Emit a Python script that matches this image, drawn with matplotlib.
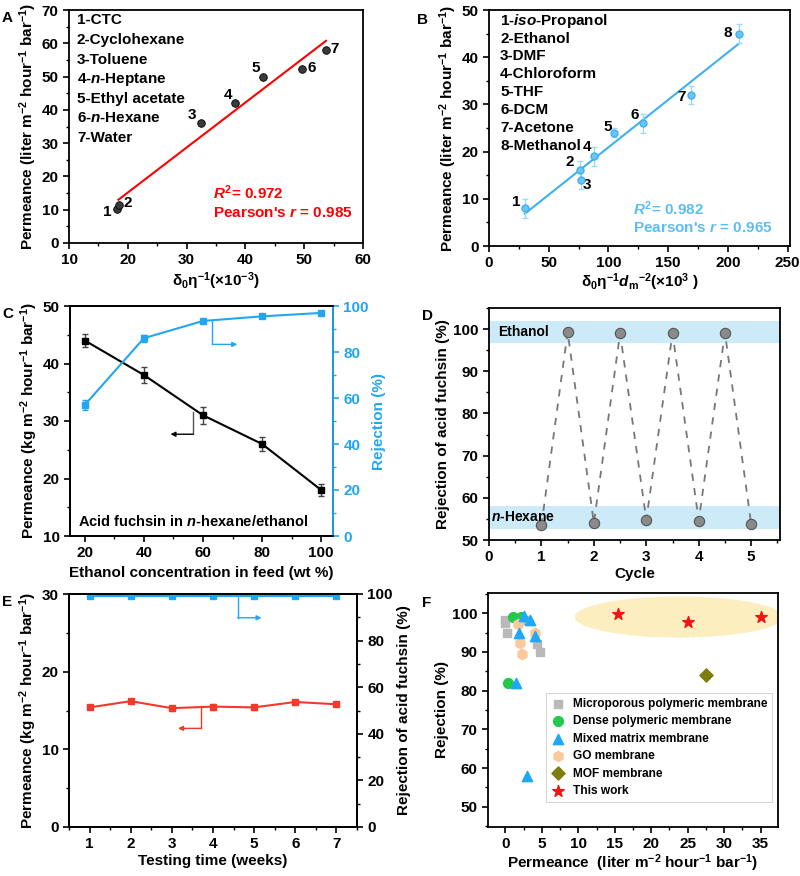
import numpy as np
import matplotlib
matplotlib.use("Agg")
import matplotlib.pyplot as plt
from matplotlib.patches import Ellipse
from matplotlib.ticker import MultipleLocator

plt.rcParams['font.family'] = ['Liberation Sans', 'DejaVu Sans']
plt.rcParams['font.weight'] = 'bold'
plt.rcParams['axes.labelweight'] = 'bold'
plt.rcParams['mathtext.fontset'] = 'custom'
plt.rcParams['mathtext.rm'] = 'Liberation Sans:bold'
plt.rcParams['mathtext.bf'] = 'Liberation Sans:bold'
plt.rcParams['mathtext.it'] = 'Liberation Sans:bold:italic'
plt.rcParams['axes.linewidth'] = 1.3

# ---------------- Data ----------------
# Panel A
a_x = [18.2, 18.5, 32.4, 38.3, 43.0, 49.7, 53.7]
a_y = [10.2, 11.5, 36.0, 42.0, 50.0, 52.3, 58.0]
a_names = ["1-CTC", "2-Cyclohexane", "3-Toluene", "4-$n$-Heptane",
           "5-Ethyl acetate", "6-$n$-Hexane", "7-Water"]
# Panel B
b_x = [30, 76, 77, 88, 105, 129, 169, 209]
b_y = [8, 16, 14, 19, 24, 26, 32, 45]
b_err = [2, 2, 2, 2, 1, 2, 2, 2]
b_names = ["1-$iso$-Propanol", "2-Ethanol", "3-DMF", "4-Chloroform",
           "5-THF", "6-DCM", "7-Acetone", "8-Methanol"]
# Panel C
c_x = [20, 40, 60, 80, 100]
c_perm = [44, 38, 31, 26, 18]
c_perm_err = [1.2, 1.4, 1.5, 1.3, 1.0]
c_rej = [57, 86, 93.5, 95.5, 97]
c_rej_err = [2, 1.5, 0.8, 0.6, 0.5]
# Panel D
d_x = [1, 1.5, 2, 2.5, 3, 3.5, 4, 4.5, 5]
d_y = [53.5, 99.3, 54.0, 99.0, 54.8, 99.0, 54.6, 99.1, 53.8]
# Panel E
e_x = [1, 2, 3, 4, 5, 6, 7]
e_perm = [15.4, 16.2, 15.3, 15.5, 15.4, 16.1, 15.8]
e_perm_err = [0.2, 0.2, 0.3, 0.4, 0.3, 0.3, 0.2]
e_rej = [99.3, 99.3, 99.3, 99.3, 99.3, 99.3, 99.3]
# Panel F
f_micro_x = [0.0, 0.0, 0.2, 2.5, 4.3, 4.8]
f_micro_y = [98.3, 97.4, 95.0, 98.3, 92.0, 90.0]
f_dense_x = [1.0, 2.15, 0.4]
f_dense_y = [99.1, 99.1, 82.0]
f_mmm_x = [2.5, 3.4, 1.9, 4.0, 1.5, 3.0]
f_mmm_y = [99.3, 98.2, 95.0, 94.0, 82.0, 58.0]
f_go_x = [1.7, 4.1, 2.0, 2.3]
f_go_y = [97.1, 95.0, 92.2, 89.5]
f_mof_x = [27.5]
f_mof_y = [84.0]
f_this_x = [15.5, 25.0, 35.1]
f_this_y = [99.7, 97.6, 99.1]

RED = '#f23a2a'
BLUE = '#3fb0f0'
BLUE_C = '#22a6f2'
FS = 11

fig = plt.figure(figsize=(8, 8.76), dpi=100)

def style(ax):
    ax.tick_params(which='major', direction='out', length=4, width=1.2, labelsize=FS)
    ax.tick_params(which='minor', direction='out', length=2.5, width=1.0)
    for lab in ax.get_xticklabels() + ax.get_yticklabels():
        lab.set_fontweight('bold')

# ---------------- A ----------------
axA = fig.add_axes([0.08625, 1 - 243/876, 0.3675, 233/876])
coef = np.polyfit(a_x, a_y, 1)
xx = np.array([min(a_x) + 0.2, max(a_x)])
axA.plot(xx, np.polyval(coef, xx), color='red', lw=1.5)
axA.scatter(a_x, a_y, s=30, color='#3a3a3a', edgecolor='black', linewidth=0.6, zorder=3)
axA.set_xlim(10, 60); axA.set_ylim(0, 70)
axA.xaxis.set_major_locator(MultipleLocator(10)); axA.xaxis.set_minor_locator(MultipleLocator(5))
axA.yaxis.set_major_locator(MultipleLocator(10)); axA.yaxis.set_minor_locator(MultipleLocator(5))
lblA = [(-1.0, -1.0, 'right', 'center'), (0.8, 0.4, 'left', 'center'), (-0.8, 0.5, 'right', 'bottom'),
        (-0.6, 0.5, 'right', 'bottom'), (-0.6, 0.5, 'right', 'bottom'), (0.8, 0.2, 'left', 'center'),
        (0.8, 0.3, 'left', 'center')]
for i, (dx, dy, ha, va) in enumerate(lblA):
    axA.text(a_x[i] + dx, a_y[i] + dy, str(i + 1), ha=ha, va=va, fontsize=FS, fontweight='bold')
for i, n in enumerate(a_names):
    axA.text(0.027, 0.955 - i * 0.084, n, transform=axA.transAxes, ha='left', va='center',
             fontsize=FS, fontweight='bold')
axA.text(0.49, 0.215, r"$R^2$= 0.972", transform=axA.transAxes, color='red', fontsize=FS,
         fontweight='bold', va='center')
axA.text(0.49, 0.13, r"Pearson's $r$ = 0.985", transform=axA.transAxes, color='red', fontsize=FS,
         fontweight='bold', va='center')
axA.set_xlabel(r"δ$_0$η$^{-1}$(×10$^{-3}$)", fontsize=FS, labelpad=2)
axA.set_ylabel(r"Permeance (liter m$^{-2}$ hour$^{-1}$ bar$^{-1}$)", fontsize=FS, labelpad=2)
style(axA)

# ---------------- B ----------------
axB = fig.add_axes([489/800, 1 - 246/876, 301/800, 236/876])
coefB = np.polyfit(b_x, b_y, 1)
xx = np.array([min(b_x), max(b_x)])
axB.plot(xx, np.polyval(coefB, xx), color=BLUE, lw=1.5)
axB.errorbar(b_x, b_y, yerr=b_err, fmt='o', ms=5, color=BLUE, mfc='#6cc4f5', mec=BLUE,
             ecolor='#9fd8f8', elinewidth=1, capsize=2.5, zorder=3)
axB.set_xlim(0, 252); axB.set_ylim(0, 50)
axB.xaxis.set_major_locator(MultipleLocator(50)); axB.xaxis.set_minor_locator(MultipleLocator(25))
axB.yaxis.set_major_locator(MultipleLocator(10)); axB.yaxis.set_minor_locator(MultipleLocator(5))
lblB_pos = [(23.2, 9.4), (67.8, 17.9), (82.0, 12.9), (82.0, 21.0),
            (99.7, 25.3), (122.0, 27.8), (161.3, 31.6), (200.0, 45.1)]
for i, (lx, ly) in enumerate(lblB_pos):
    axB.text(lx, ly, str(i + 1), ha='center', va='center', fontsize=FS, fontweight='bold')
for i, n in enumerate(b_names):
    axB.text(0.037, 0.955 - i * 0.076, n, transform=axB.transAxes, ha='left', va='center',
             fontsize=FS, fontweight='bold')
axB.text(0.48, 0.16, r"$R^2$= 0.982", transform=axB.transAxes, color='#5cbdf5', fontsize=FS,
         fontweight='bold', va='center')
axB.text(0.48, 0.078, r"Pearson's $r$ = 0.965", transform=axB.transAxes, color='#5cbdf5', fontsize=FS,
         fontweight='bold', va='center')
axB.set_xlabel(r"δ$_0$η$^{-1}$$d_{\rm m}$$^{-2}$(×10$^3$ )", fontsize=FS, labelpad=1)
axB.set_ylabel(r"Permeance (liter m$^{-2}$ hour$^{-1}$ bar$^{-1}$)", fontsize=FS, labelpad=2)
style(axB)

# ---------------- C ----------------
axC = fig.add_axes([70/800, 1 - 536/876, 263/800, 230/876])
axC.errorbar(c_x, c_perm, yerr=c_perm_err, fmt='s-', ms=5, color='black', ecolor='#444444',
             elinewidth=1, capsize=2.5, lw=1.5)
axC.set_xlim(15, 104); axC.set_ylim(10, 50)
axC.xaxis.set_major_locator(MultipleLocator(20)); axC.xaxis.set_minor_locator(MultipleLocator(10))
axC.yaxis.set_major_locator(MultipleLocator(10)); axC.yaxis.set_minor_locator(MultipleLocator(5))
axC.annotate('', xy=(49.0, 27.7), xytext=(56.6, 27.7),
             arrowprops=dict(arrowstyle='-|>', color='black', lw=1.0, mutation_scale=7, shrinkA=0, shrinkB=0))
axC.plot([56.6, 56.6], [31.6, 27.7], color='#555555', lw=1.0)
axC.text(17.8, 12.6, r"Acid fuchsin in $n$-hexane/ethanol", fontsize=10.5, fontweight='bold', va='center')
axC.set_xlabel("Ethanol concentration in feed (wt %)", fontsize=FS, labelpad=4)
axC.set_ylabel(r"Permeance (kg m$^{-2}$ hour$^{-1}$ bar$^{-1}$)", fontsize=FS, labelpad=2)
style(axC)
axC2 = axC.twinx()
axC2.errorbar(c_x, c_rej, yerr=c_rej_err, fmt='s-', ms=5, color=BLUE_C, ecolor=BLUE_C,
              elinewidth=1, capsize=2.5, lw=1.5)
axC2.set_ylim(0, 100)
axC2.yaxis.set_major_locator(MultipleLocator(20)); axC2.yaxis.set_minor_locator(MultipleLocator(10))
axC2.plot([63.2, 63.2], [93.5, 83.3], color=BLUE_C, lw=1.0)
axC2.annotate('', xy=(71.6, 83.3), xytext=(63.2, 83.3),
              arrowprops=dict(arrowstyle='-|>', color=BLUE_C, lw=1.0, mutation_scale=7, shrinkA=0, shrinkB=0))
axC2.spines['right'].set_color(BLUE_C)
axC2.tick_params(axis='y', which='both', colors=BLUE_C)
axC2.set_ylabel("Rejection (%)", color=BLUE_C, fontsize=FS, labelpad=2)
style(axC2)
for lab in axC2.get_yticklabels():
    lab.set_color(BLUE_C)

# ---------------- D ----------------
axD = fig.add_axes([489/800, 1 - 540/876, 291/800, 232/876])
axD.axhspan(96.7, 102.0, color='#cdeaf9', lw=0, zorder=0)
axD.axhspan(52.6, 58.1, color='#cdeaf9', lw=0, zorder=0)
axD.plot(d_x, d_y, ls=(0, (4, 4)), color='#777777', lw=1.3, zorder=2)
axD.scatter(d_x, d_y, s=55, color='#8a8a8a', edgecolor='#555555', linewidth=0.8, zorder=3)
axD.set_xlim(0, 5.55); axD.set_ylim(50, 105)
axD.xaxis.set_major_locator(MultipleLocator(1)); axD.xaxis.set_minor_locator(MultipleLocator(0.5))
axD.yaxis.set_major_locator(MultipleLocator(10)); axD.yaxis.set_minor_locator(MultipleLocator(5))
axD.text(0.17, 99.3, "Ethanol", fontsize=10, fontweight='bold', va='center')
axD.text(0.04, 55.4, r"$n$-Hexane", fontsize=10, fontweight='bold', va='center')
axD.set_xlabel("Cycle", fontsize=FS, labelpad=2)
axD.set_ylabel("Rejection of acid fuchsin (%)", fontsize=FS, labelpad=2)
style(axD)

# ---------------- E ----------------
axE = fig.add_axes([69/800, 1 - 827/876, 288/800, 233/876])
axE.errorbar(e_x, e_perm, yerr=e_perm_err, fmt='s-', ms=5, color=RED, ecolor='#f5a090',
             elinewidth=1, capsize=2, lw=1.5)
axE.set_xlim(0.5, 7.5); axE.set_ylim(0, 30)
axE.xaxis.set_major_locator(MultipleLocator(1)); axE.xaxis.set_minor_locator(MultipleLocator(0.5))
axE.yaxis.set_major_locator(MultipleLocator(10)); axE.yaxis.set_minor_locator(MultipleLocator(5))
axE.plot([3.72, 3.72], [15.6, 12.7], color=RED, lw=1.0)
axE.annotate('', xy=(3.15, 12.7), xytext=(3.72, 12.7),
             arrowprops=dict(arrowstyle='-|>', color=RED, lw=1.0, mutation_scale=7, shrinkA=0, shrinkB=0))
axE.set_xlabel("Testing time (weeks)", fontsize=FS, labelpad=2)
axE.set_ylabel(r"Permeance (kg m$^{-2}$ hour$^{-1}$ bar$^{-1}$)", fontsize=FS, labelpad=2)
style(axE)
axE2 = axE.twinx()
axE2.plot(e_x, e_rej, 's-', ms=5, color=BLUE_C, lw=1.5)
axE2.set_ylim(0, 100)
axE2.yaxis.set_major_locator(MultipleLocator(20)); axE2.yaxis.set_minor_locator(MultipleLocator(10))
axE2.plot([4.6, 4.6], [99.3, 89.8], color=BLUE_C, lw=1.0)
axE2.annotate('', xy=(5.18, 89.8), xytext=(4.6, 89.8),
              arrowprops=dict(arrowstyle='-|>', color=BLUE_C, lw=1.0, mutation_scale=7, shrinkA=0, shrinkB=0))
axE2.set_ylabel("Rejection of acid fuchsin (%)", fontsize=FS, labelpad=3)
style(axE2)

# ---------------- F ----------------
axF = fig.add_axes([488/800, 1 - 827/876, 290/800, 234/876])
ell = Ellipse((23.8, 99.0), 28.6, 10.6, facecolor='#fdebb4', edgecolor='none', alpha=0.85, zorder=0)
axF.add_patch(ell)
axF.scatter(f_micro_x, f_micro_y, marker='s', s=40, color='#b9b9b9', label='Microporous polymeric membrane', zorder=2)
axF.scatter(f_dense_x, f_dense_y, marker='o', s=50, color='#22c94a', label='Dense polymeric membrane', zorder=3)
axF.scatter(f_mmm_x, f_mmm_y, marker='^', s=55, color='#1ea8f5', label='Mixed matrix membrane', zorder=4)
axF.scatter(f_go_x, f_go_y, marker='h', s=55, color='#fcc99a', label='GO membrane', zorder=3)
axF.scatter(f_mof_x, f_mof_y, marker='D', s=45, color='#7d7d10', label='MOF membrane', zorder=3)
axF.scatter(f_this_x, f_this_y, marker='*', s=75, color='#f01515', label='This work', zorder=4)
axF.set_xlim(-2.4, 37.4); axF.set_ylim(44.8, 105.2)
axF.xaxis.set_major_locator(MultipleLocator(5)); axF.xaxis.set_minor_locator(MultipleLocator(2.5))
axF.yaxis.set_major_locator(MultipleLocator(10)); axF.yaxis.set_minor_locator(MultipleLocator(5))
leg = axF.legend(loc='upper left', bbox_to_anchor=(0.199, 0.574), borderaxespad=0,
                 prop={'size': 8.6, 'weight': 'bold'},
                 frameon=True, fancybox=False, edgecolor='#cccccc', handletextpad=0.6,
                 labelspacing=0.45, borderpad=0.45, handlelength=1.2)
leg.get_frame().set_linewidth(0.8)
axF.set_xlabel(r"Permeance  (liter m$^{-2}$ hour$^{-1}$ bar$^{-1}$)", fontsize=FS, labelpad=1)
axF.set_ylabel("Rejection (%)", fontsize=FS, labelpad=2)
style(axF)

# Panel letters
for x, y, t in [(2, 22, 'A'), (417, 24, 'B'), (2, 318, 'C'), (422, 320, 'D'), (2, 606, 'E'), (422, 607, 'F')]:
    fig.text(x/800, 1 - y/876, t, fontsize=11, fontweight='bold', ha='left', va='baseline')

fig.savefig('out.png', dpi=100)
